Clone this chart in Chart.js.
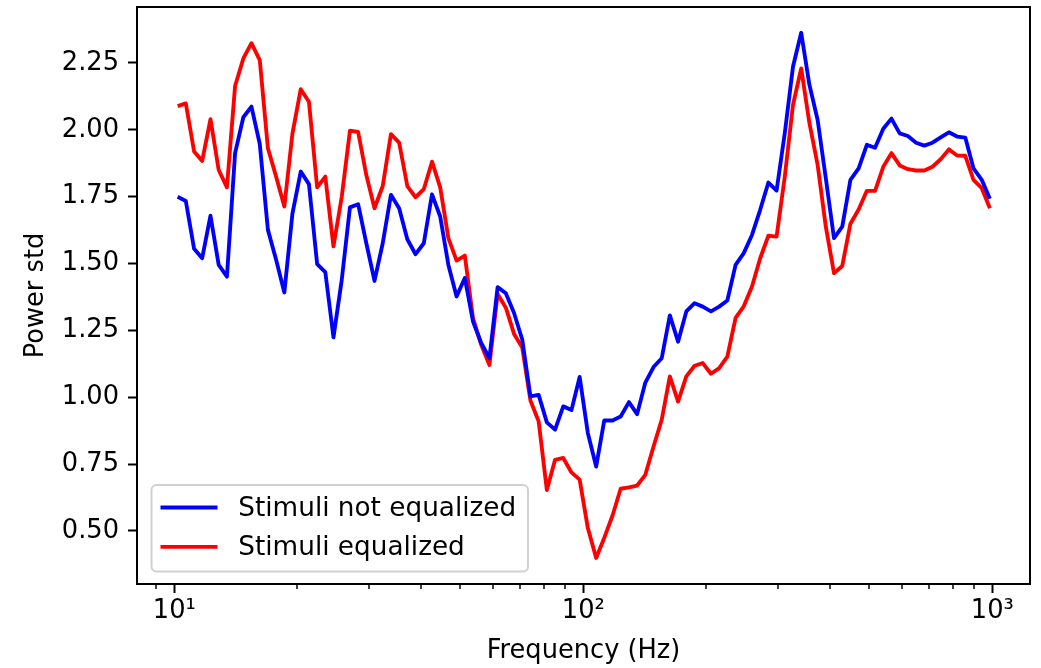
<!DOCTYPE html>
<html>
<head>
<meta charset="utf-8">
<script src="https://cdn.jsdelivr.net/npm/chart.js@4"></script>
<style>
  body { margin: 0; background: #fff; }
</style>
</head>
<body>
<canvas id="myChart" width="1041" height="668"></canvas>
<script>
const ctx = document.getElementById('myChart');

// frequencies (Hz)
const freqs = [
	10.19, 10.67, 11.18, 11.70, 12.26, 12.84, 13.45, 14.08, 14.75, 15.44,
	16.18, 16.94, 17.74, 18.58, 19.45, 20.38, 21.34, 22.35, 23.40, 24.50,
	25.67, 26.88, 28.15, 29.48, 30.87, 32.33, 33.86, 35.46, 37.13, 38.89,
	40.74, 42.67, 44.68, 46.79, 49.00, 51.32, 53.75, 56.29, 58.95, 61.73,
	64.66, 67.71, 70.91, 74.26, 77.77, 81.45, 85.30, 89.33, 93.56, 97.97,
	102.6, 107.5, 112.5, 117.9, 123.4, 129.3, 135.4, 141.8, 148.5, 155.5,
	162.8, 170.5, 178.6, 187.1, 195.9, 205.2, 214.9, 225.0, 235.7, 246.8,
	258.5, 270.7, 283.5, 296.9, 310.9, 325.6, 341.0, 357.2, 374.1, 391.7,
	410.2, 429.7, 449.9, 471.2, 493.5, 516.8, 541.3, 566.8, 593.7, 621.7,
	651.1, 681.9, 714.1, 747.9, 783.2, 820.3, 859.0, 899.5, 942.3, 986.5,
];

const notEqualized = [
	1.750, 1.734, 1.555, 1.520, 1.679, 1.495, 1.451, 1.913, 2.047, 2.087,
	1.947, 1.626, 1.514, 1.392, 1.688, 1.844, 1.797, 1.498, 1.468, 1.224,
	1.439, 1.710, 1.722, 1.576, 1.435, 1.576, 1.757, 1.707, 1.591, 1.535,
	1.576, 1.759, 1.676, 1.495, 1.377, 1.446, 1.283, 1.203, 1.146, 1.412,
	1.389, 1.315, 1.216, 1.003, 1.009, 0.906, 0.879, 0.966, 0.952, 1.076,
	0.866, 0.741, 0.913, 0.913, 0.928, 0.982, 0.937, 1.055, 1.113, 1.146,
	1.306, 1.208, 1.321, 1.352, 1.339, 1.321, 1.339, 1.362, 1.495, 1.539,
	1.607, 1.701, 1.803, 1.773, 1.987, 2.236, 2.363, 2.168, 2.037, 1.819,
	1.595, 1.638, 1.813, 1.856, 1.944, 1.933, 2.004, 2.042, 1.987, 1.977,
	1.952, 1.941, 1.952, 1.972, 1.991, 1.975, 1.971, 1.856, 1.813, 1.742,
];

const equalized = [
	2.089, 2.099, 1.919, 1.884, 2.040, 1.850, 1.785, 2.164, 2.267, 2.324,
	2.261, 1.931, 1.825, 1.713, 1.987, 2.152, 2.105, 1.785, 1.825, 1.564,
	1.750, 1.997, 1.992, 1.831, 1.707, 1.790, 1.984, 1.952, 1.790, 1.748,
	1.778, 1.881, 1.785, 1.595, 1.511, 1.530, 1.296, 1.196, 1.121, 1.386,
	1.335, 1.237, 1.186, 0.988, 0.910, 0.653, 0.766, 0.773, 0.719, 0.692,
	0.511, 0.399, 0.474, 0.558, 0.658, 0.663, 0.670, 0.710, 0.816, 0.916,
	1.078, 0.984, 1.078, 1.118, 1.128, 1.088, 1.109, 1.152, 1.297, 1.340,
	1.414, 1.520, 1.604, 1.601, 1.825, 2.093, 2.230, 2.025, 1.869, 1.638,
	1.464, 1.491, 1.649, 1.702, 1.772, 1.772, 1.862, 1.913, 1.867, 1.853,
	1.848, 1.848, 1.862, 1.890, 1.927, 1.904, 1.903, 1.813, 1.782, 1.707,
];

const seriesNames = ['Stimuli not equalized', 'Stimuli equalized'];
const colors = ['#0000ff', '#ff0000'];

const xTicks = [10, 100, 1000];
const xTickLabels = ['10¹', '10²', '10³'];
const xMinorTicks = [8, 9, 20, 30, 40, 50, 60, 70, 80, 90, 200, 300, 400, 500, 600, 700, 800, 900];
const yTicks = [0.5, 0.75, 1.0, 1.25, 1.5, 1.75, 2.0, 2.25];

const fontFamily = '"DejaVu Sans", sans-serif';
const fontSize = 25.7;
const lineW = 3.85;

// box round the plot, minor ticks, legend inside the axes
const framePlugin = {
	id: 'frame',
	afterDraw(chart) {
		const c = chart.ctx;
		const a = chart.chartArea;
		const xs = chart.scales.x;
		c.save();
		c.strokeStyle = '#000';
		c.lineWidth = 1.5;
		xMinorTicks.forEach((v) => {
			if (v < xs.min || v > xs.max) return;
			const px = Math.round(xs.getPixelForValue(v));
			c.beginPath();
			c.moveTo(px, a.bottom);
			c.lineTo(px, a.bottom + 5);
			c.stroke();
		});
		c.lineWidth = 2;
		c.strokeRect(a.left, a.top, a.right - a.left, a.bottom - a.top);

		// legend
		const lx = a.left + 14.5;
		const ly = a.bottom - 99;
		c.beginPath();
		c.roundRect(lx, ly, 376.5, 86.5, 5);
		c.fillStyle = 'rgba(255,255,255,0.8)';
		c.fill();
		c.strokeStyle = '#d0d0d0';
		c.lineWidth = 2;
		c.stroke();
		c.font = '26.3px ' + fontFamily;
		c.textBaseline = 'middle';
		c.textAlign = 'left';
		seriesNames.forEach((name, i) => {
			const y = ly + 22.5 + i * 39.3;
			c.strokeStyle = colors[i];
			c.lineWidth = lineW;
			c.beginPath();
			c.moveTo(lx + 9, y);
			c.lineTo(lx + 66, y);
			c.stroke();
			c.fillStyle = '#000';
			c.fillText(name, lx + 86.8, y + 1.5);
		});
		c.restore();
	},
};

const makeSet = (i, values) => ({
	label: seriesNames[i],
	data: freqs.map((f, k) => ({ x: f, y: values[k] })),
	borderColor: colors[i],
	backgroundColor: colors[i],
	borderWidth: lineW,
	borderJoinStyle: 'round',
	pointRadius: 0,
	tension: 0,
});

new Chart(ctx, {
	type: 'line',
	data: {
		datasets: [makeSet(0, notEqualized), makeSet(1, equalized)],
	},
	options: {
		responsive: false,
		animation: false,
		events: [],
		layout: { padding: { top: 7, right: 11, left: 0, bottom: 0 } },
		plugins: {
			legend: { display: false },
			tooltip: { enabled: false },
		},
		scales: {
			x: {
				type: 'logarithmic',
				min: 8.106,
				max: 1236.5,
				afterBuildTicks: (s) => { s.ticks = xTicks.map((v) => ({ value: v })); },
				afterFit: (s) => {
					s.height = 84;
					s.paddingLeft = 0;
					s.paddingRight = 0;
				},
				ticks: {
					callback: (v) => xTickLabels[xTicks.indexOf(v)],
					color: '#000',
					font: { family: fontFamily, size: fontSize },
					padding: 3,
					maxRotation: 0,
					autoSkip: false,
				},
				grid: { drawOnChartArea: false, tickLength: 9, tickWidth: 2, tickColor: '#000' },
				border: { display: false },
				title: {
					display: true,
					text: 'Frequency (Hz)',
					color: '#000',
					font: { family: fontFamily, size: fontSize },
					padding: { top: 0, bottom: 1 },
				},
			},
			y: {
				type: 'linear',
				min: 0.3018,
				max: 2.4594,
				afterBuildTicks: (s) => { s.ticks = yTicks.map((v) => ({ value: v })); },
				afterFit: (s) => {
					s.width = 137;
					s.paddingTop = 0;
					s.paddingBottom = 0;
				},
				ticks: {
					callback: (v) => v.toFixed(2),
					color: '#000',
					font: { family: fontFamily, size: fontSize },
					padding: 9,
				},
				grid: { drawOnChartArea: false, tickLength: 9, tickWidth: 2, tickColor: '#000' },
				border: { display: false },
				title: {
					display: true,
					text: 'Power std',
					color: '#000',
					font: { family: fontFamily, size: fontSize },
					padding: { top: 21, bottom: 0 },
				},
			},
		},
	},
	plugins: [framePlugin],
});
</script>
</body>
</html>
